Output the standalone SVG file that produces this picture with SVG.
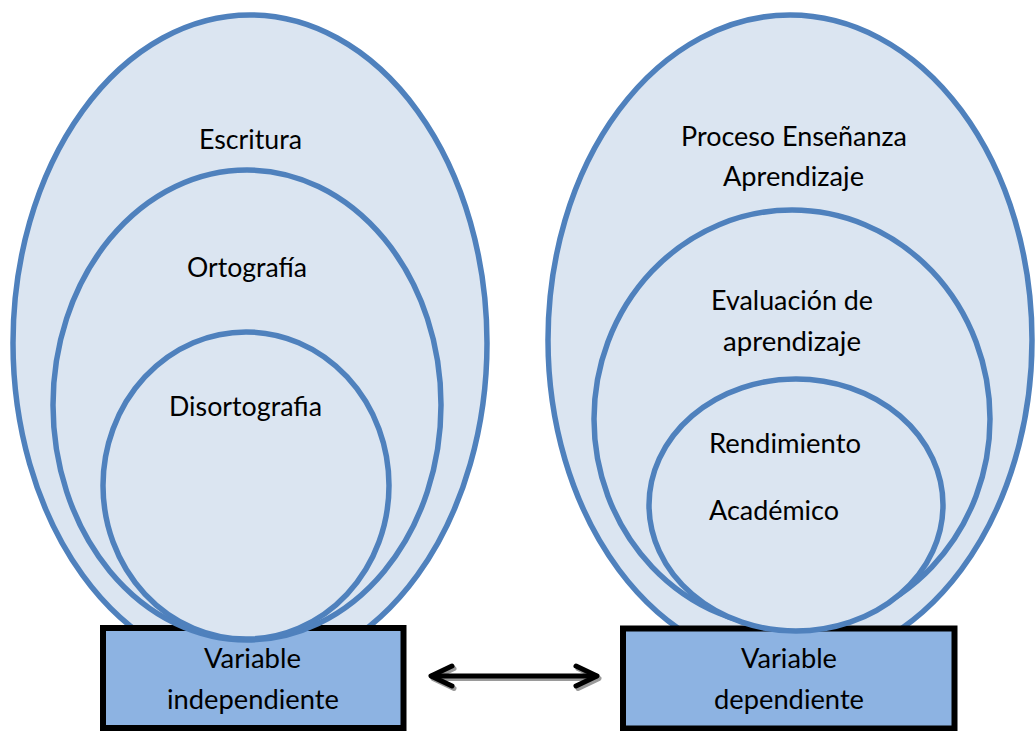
<svg xmlns="http://www.w3.org/2000/svg" width="1035" height="731" viewBox="0 0 1035 731">
<style>
.ell{fill:#DBE5F1;stroke:#4F81BD;stroke-width:5.5}
.box{fill:#8DB3E2;stroke:#000;stroke-width:6}
.t{font-family:Lato,"Liberation Sans",sans-serif;font-size:26px;fill:#000;text-anchor:middle}
.tl{font-family:Lato,"Liberation Sans",sans-serif;font-size:26px;fill:#000}
.arr{fill:none;stroke:#000;stroke-width:5;stroke-linecap:round;stroke-linejoin:round}
.sh{fill:none;stroke:#9a9a9a;stroke-width:5;stroke-linecap:round;stroke-linejoin:round}
</style>
<rect width="1035" height="731" fill="#fff"/>
<g id="escritura">
<ellipse class="ell" cx="250" cy="343" rx="237" ry="328"/>
<text class="t" x="250.5" y="149" textLength="103" lengthAdjust="spacingAndGlyphs">Escritura</text>
</g>
<g id="dependent-outer">
<ellipse class="ell" cx="790" cy="340" rx="242" ry="325"/>
<text class="t" x="794" y="146" textLength="226" lengthAdjust="spacingAndGlyphs">Proceso Enseñanza</text>
<text class="t" x="793.5" y="186" textLength="141" lengthAdjust="spacingAndGlyphs">Aprendizaje</text>
</g>
<g id="var-independiente">
<rect class="box" x="103" y="628" width="300.5" height="100"/>
<text class="t" x="252.5" y="668" textLength="97" lengthAdjust="spacingAndGlyphs">Variable</text>
<text class="t" x="253" y="709" textLength="172" lengthAdjust="spacingAndGlyphs">independiente</text>
</g>
<g id="var-dependiente">
<rect class="box" x="623" y="628.5" width="331.5" height="100"/>
<text class="t" x="789" y="668" textLength="96" lengthAdjust="spacingAndGlyphs">Variable</text>
<text class="t" x="789" y="709" textLength="150" lengthAdjust="spacingAndGlyphs">dependiente</text>
</g>
<g id="ortografia">
<ellipse class="ell" cx="247" cy="405" rx="194" ry="235"/>
<text class="t" x="247" y="277" textLength="120" lengthAdjust="spacingAndGlyphs">Ortografía</text>
</g>
<g id="disortografia">
<ellipse class="ell" cx="246" cy="485.5" rx="143" ry="153.5"/>
<text class="t" x="245.5" y="416" textLength="153" lengthAdjust="spacingAndGlyphs">Disortografia</text>
</g>
<g id="evaluacion">
<ellipse class="ell" cx="792" cy="419" rx="198" ry="209"/>
<text class="t" x="792" y="310" textLength="162" lengthAdjust="spacingAndGlyphs">Evaluación de</text>
<text class="t" x="792" y="351" textLength="138" lengthAdjust="spacingAndGlyphs">aprendizaje</text>
</g>
<g id="rendimiento">
<ellipse class="ell" cx="796" cy="505" rx="147" ry="126"/>
<text class="tl" x="709" y="453" textLength="152" lengthAdjust="spacingAndGlyphs">Rendimiento</text>
<text class="tl" x="709" y="520" textLength="130" lengthAdjust="spacingAndGlyphs">Académico</text>
</g>
<g id="connectors">
<g transform="translate(2,2.5)">
<line class="sh" x1="432" y1="676" x2="596" y2="676"/>
<polyline class="sh" points="452,666 431,676 452,686"/>
<polyline class="sh" points="576,666 597,676 576,686"/>
</g>
<line class="arr" x1="432" y1="676" x2="596" y2="676"/>
<polyline class="arr" points="452,666 431,676 452,686"/>
<polyline class="arr" points="576,666 597,676 576,686"/>
</g>
</svg>
